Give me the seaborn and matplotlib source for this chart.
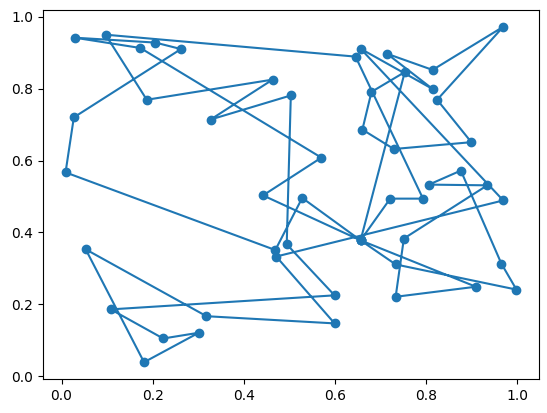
import matplotlib
matplotlib.use("Agg")
import matplotlib.pyplot as plt
import seaborn as sns
import pandas as pd

# Route 1 (starts and ends at the central point)
route1_x = [0.656, 0.442, 0.570, 0.173, 0.0285, 0.206, 0.262, 0.027, 0.0088, 0.469, 0.528, 0.656]
route1_y = [0.378, 0.503, 0.608, 0.913, 0.9417, 0.928, 0.910, 0.720, 0.567, 0.351, 0.496, 0.378]

# Route 2
route2_x = [0.656, 0.909, 0.733, 0.751, 0.934, 0.806, 0.876, 0.965, 0.998, 0.733, 0.656]
route2_y = [0.378, 0.249, 0.221, 0.383, 0.531, 0.533, 0.572, 0.313, 0.241, 0.311, 0.378]

# Route 3
route3_x = [0.656, 0.753, 0.680, 0.660, 0.729, 0.899, 0.824, 0.969, 0.814, 0.714, 0.814,
            0.656, 0.969, 0.471, 0.599, 0.318, 0.053, 0.181, 0.301, 0.223, 0.108, 0.599,
            0.494, 0.503, 0.327, 0.463, 0.187, 0.0965, 0.645, 0.793, 0.721, 0.656]
route3_y = [0.378, 0.846, 0.791, 0.686, 0.632, 0.651, 0.769, 0.972, 0.852, 0.897, 0.799,
            0.911, 0.489, 0.333, 0.147, 0.167, 0.353, 0.039, 0.121, 0.105, 0.186, 0.225,
            0.367, 0.781, 0.714, 0.825, 0.769, 0.950, 0.889, 0.494, 0.494, 0.378]

xs = route1_x + route2_x[1:] + route3_x[1:]
ys = route1_y + route2_y[1:] + route3_y[1:]
df = pd.DataFrame({"x": xs, "y": ys, "order": range(len(xs))})

fig = plt.figure(figsize=(5.47, 4.13), dpi=100)
ax = fig.add_axes([43/547, 1 - 379/413, (539 - 43)/547, (379 - 10)/413])
sns.lineplot(data=df, x="x", y="y", sort=False, estimator=None, ax=ax,
             color="#1f77b4", marker="o", markersize=6, linewidth=1.5,
             markeredgecolor="#1f77b4", markeredgewidth=1)
ax.set_xlabel("")
ax.set_ylabel("")
ax.margins(0.05)
fig.savefig("out.png", dpi=100)
